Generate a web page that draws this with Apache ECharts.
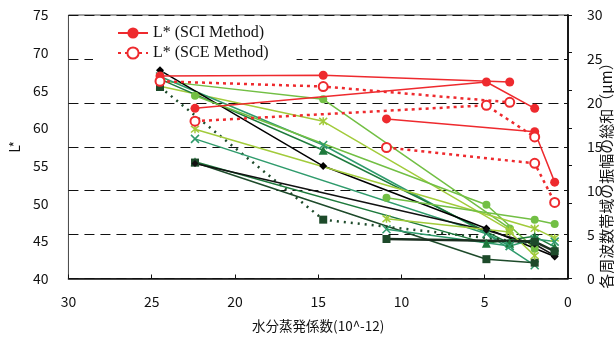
<!DOCTYPE html>
<html>
<head>
<meta charset="utf-8">
<script src="https://cdn.jsdelivr.net/npm/echarts@6/dist/echarts.min.js"></script>
<style>html,body{margin:0;padding:0;background:#fff}#c{width:614px;height:338px}</style>
</head>
<body>
<div id="c"></div>
<script>
// ---- data (x = 水分蒸発係数, left axis = L*, right axis = amplitude sum μm) ----
const leftTicks = [40, 75, 5];
const rightTicks = [0, 30, 5];
const xTicks = [0, 30, 5];

// L* (SCI Method)
const sciA = [[24.5, 66.9], [14.7, 67.0], [3.5, 66.1]];
const sciB = [[22.4, 62.6], [4.9, 66.1], [2.0, 62.6]];
const sciC = [[10.9, 61.2], [2.0, 59.5], [0.8, 52.8]];
// L* (SCE Method)
const sceA = [[24.5, 66.2], [14.7, 65.5], [3.5, 63.4]];
const sceB = [[22.4, 60.9], [4.9, 63.0], [2.0, 58.8]];
const sceC = [[10.9, 57.4], [2.0, 55.3], [0.8, 50.1]];

// amplitude sums (right axis)
const circleA = [[24.5, 22.5], [14.7, 20.4], [3.5, 5.7]];
const starA = [[24.5, 21.9], [14.7, 17.9], [3.5, 5.5]];
const crossA = [[24.5, 23.0], [14.7, 15.2], [3.5, 3.7]];
const triA = [[24.5, 22.7], [14.7, 14.6], [3.5, 4.0]];
const blackA = [[24.5, 23.7], [14.7, 12.8], [4.9, 5.7], [0.8, 2.5]];
const squareDotA = [[24.5, 21.8], [14.7, 6.7], [2.0, 4.0]];

const circleB = [[22.4, 20.8], [4.9, 8.4], [2.0, 3.4]];
const starB = [[22.4, 17.0], [2.0, 5.7], [0.8, 4.6]];
const crossB = [[22.4, 15.9], [4.9, 5.1], [2.0, 1.5]];
const triB = [[22.4, 13.3], [4.9, 4.0], [2.0, 4.8], [0.8, 3.6]];
const squareB = [[22.4, 13.2], [4.9, 2.2], [2.0, 1.8]];
const blackB = [[22.4, 13.1], [4.9, 5.5], [2.0, 3.9], [0.8, 2.6]];

const circleC = [[10.9, 9.2], [2.0, 6.7], [0.8, 6.2]];
const starC = [[10.9, 6.8], [3.5, 5.3], [2.0, 2.6]];
const crossC = [[10.9, 5.6], [3.5, 3.7], [2.0, 4.5], [0.8, 4.2]];
const squareC = [[10.9, 4.5], [2.0, 4.2], [0.8, 3.1]];

const SCI = 'L* (SCI Method)';
const SCE = 'L* (SCE Method)';

// ---- styles ----
const RED = '#ee2a2e';
const CROSS = 'path://M0,0L10,10M10,0L0,10';
const STAR = 'path://M0,0L10,10M10,0L0,10M5,-1L5,11';
const cCircle = '#72bf44', cStar = '#a2cb3b', cCross = '#2f9b6c', cTri = '#1d7a3c', cSq = '#1d4a2a';

function sci(d){return {name:SCI,type:'line',yAxisIndex:0,data:d,symbol:'circle',symbolSize:9,
  lineStyle:{color:RED,width:1.5},itemStyle:{color:RED},z:5};}
function sce(d){return {name:SCE,type:'line',yAxisIndex:0,data:d,symbol:'emptyCircle',symbolSize:9,
  lineStyle:{color:RED,width:2.5,type:[3,4]},itemStyle:{color:RED,borderWidth:1.3},z:5};}
function g(name,d,color,symbol,size,extra){
  const s={name:name,type:'line',yAxisIndex:1,data:d,symbol:symbol,symbolSize:size,
    lineStyle:{color:color,width:1.5},itemStyle:{color:color,borderColor:color,borderWidth:symbol.startsWith('path')?1.5:0},z:3};
  if(extra) Object.assign(s.lineStyle,extra);
  return s;
}

const chart = echarts.init(document.getElementById('c'));
chart.setOption({
  animation:false,
  backgroundColor:'#fff',
  grid:{left:59,right:46,top:15,bottom:55,show:true,borderColor:'#444',borderWidth:1},
  legend:{data:[SCI,SCE],orient:'vertical',left:93,top:20,padding:[5,28,5,24],itemGap:4,itemWidth:30,itemHeight:14,
    backgroundColor:'#fff',textStyle:{fontFamily:'Liberation Serif',fontSize:16,color:'#111'}},
  xAxis:{type:'value',inverse:true,min:xTicks[0],max:xTicks[1],interval:xTicks[2],
    name:'水分蒸発係数(10^-12)',nameLocation:'middle',nameGap:41,
    nameTextStyle:{fontFamily:'Noto Sans CJK JP',fontSize:13.5,color:'#111'},
    axisLine:{lineStyle:{color:'#111',width:1.5}},axisTick:{inside:true,length:4,lineStyle:{color:'#111'}},
    axisLabel:{margin:16,fontFamily:'Noto Sans CJK JP',fontSize:14,color:'#111'},splitLine:{show:false}},
  yAxis:[
    {type:'value',min:leftTicks[0],max:leftTicks[1],interval:leftTicks[2],position:'left',
     name:'L*',nameLocation:'middle',nameGap:41,nameRotate:90,
     nameTextStyle:{fontFamily:'Noto Sans CJK JP',fontSize:14,color:'#111'},
     axisLine:{show:true,lineStyle:{color:'#111',width:1.5}},axisTick:{show:true,inside:true,length:4,lineStyle:{color:'#111'}},
     axisLabel:{margin:20,fontFamily:'Noto Sans CJK JP',fontSize:14,color:'#111'},splitLine:{show:false}},
    {type:'value',min:rightTicks[0],max:rightTicks[1],interval:rightTicks[2],position:'right',
     axisLine:{show:true,lineStyle:{color:'#111',width:1.5}},axisTick:{show:true,inside:true,length:4,lineStyle:{color:'#111'}},
     axisLabel:{margin:19,fontFamily:'Noto Sans CJK JP',fontSize:14,color:'#111'},
     splitLine:{show:true,lineStyle:{color:'#111',width:1,type:[10,6]}}}
  ],
  graphic:[{type:'text',x:606,y:172,rotation:Math.PI/2,
    style:{text:'各周波数帯域の振幅の総和（μm）',fontFamily:'Noto Sans CJK JP',fontSize:15,fill:'#111',align:'center',verticalAlign:'middle'}}],
  series:[
    g('circleA',circleA,cCircle,'circle',8),
    g('starA',starA,cStar,STAR,8),
    g('crossA',crossA,cCross,CROSS,8),
    g('triA',triA,cTri,'triangle',9),
    g('blackA',blackA,'#000','diamond',8),
    g('squareDotA',squareDotA,cSq,'rect',8,{type:[2,5],width:2.5}),
    g('circleB',circleB,cCircle,'circle',8),
    g('starB',starB,cStar,STAR,8),
    g('crossB',crossB,cCross,CROSS,8),
    g('triB',triB,cTri,'triangle',9),
    g('squareB',squareB,cSq,'rect',8),
    g('blackB',blackB,'#111','diamond',7),
    g('circleC',circleC,cCircle,'circle',8),
    g('starC',starC,cStar,STAR,8),
    g('crossC',crossC,cCross,CROSS,8),
    g('squareC',squareC,cSq,'rect',8,{width:2.5,color:'#1a2e1f'}),
    sci(sciA),sci(sciB),sci(sciC),
    sce(sceA),sce(sceB),sce(sceC)
  ]
});
</script>
</body>
</html>
